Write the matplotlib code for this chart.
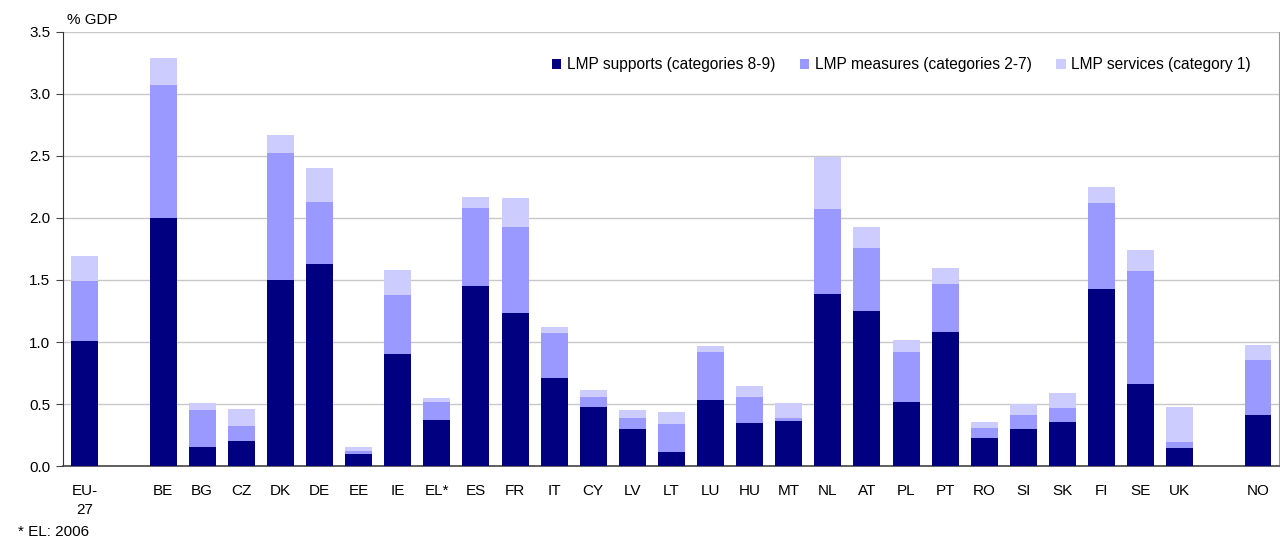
import matplotlib
matplotlib.use("Agg")
import matplotlib.pyplot as plt
import numpy as np

plt.rcParams['font.family'] = ['Liberation Sans', 'DejaVu Sans']

categories = ["EU-\n27", "", "BE", "BG", "CZ", "DK", "DE", "EE", "IE", "EL*", "ES", "FR", "IT",
              "CY", "LV", "LT", "LU", "HU", "MT", "NL", "AT", "PL", "PT", "RO", "SI", "SK",
              "FI", "SE", "UK", "", "NO"]

# values (% GDP); None for blank slots
supports = [1.01, None, 2.00, 0.15, 0.20, 1.50, 1.625, 0.10, 0.905, 0.37, 1.45, 1.235, 0.71,
            0.475, 0.295, 0.11, 0.53, 0.345, 0.36, 1.39, 1.253, 0.515, 1.082, 0.222, 0.295, 0.352,
            1.43, 0.66, 0.149, None, 0.409]
measures = [0.48, None, 1.075, 0.30, 0.12, 1.025, 0.505, 0.02, 0.47, 0.145, 0.63, 0.695, 0.365,
            0.08, 0.089, 0.225, 0.39, 0.211, 0.024, 0.68, 0.503, 0.405, 0.382, 0.081, 0.114, 0.113,
            0.69, 0.91, 0.048, None, 0.446]
services = [0.20, None, 0.215, 0.06, 0.14, 0.145, 0.27, 0.03, 0.205, 0.03, 0.09, 0.23, 0.046,
            0.056, 0.065, 0.098, 0.049, 0.089, 0.122, 0.42, 0.17, 0.097, 0.13, 0.049, 0.089, 0.122,
            0.13, 0.17, 0.276, None, 0.122]

labels_legend = ["LMP supports (categories 8-9)", "LMP measures (categories 2-7)",
                 "LMP services (category 1)"]
colors = ["#000080", "#9999FF", "#CCCCFF"]

n = len(categories)
x = np.arange(n)
s = np.array([v if v is not None else np.nan for v in supports])
m = np.array([v if v is not None else np.nan for v in measures])
sv = np.array([v if v is not None else np.nan for v in services])

fig = plt.figure(figsize=(12.8, 5.41), dpi=100)
ax = fig.add_axes([0.0492, 0.1386, 0.9498, 0.8023])

w = 0.69
ax.bar(x, s, w, color=colors[0], label=labels_legend[0], zorder=3)
ax.bar(x, m, w, bottom=s, color=colors[1], label=labels_legend[1], zorder=3)
ax.bar(x, sv, w, bottom=s + m, color=colors[2], label=labels_legend[2], zorder=3)

ax.set_xlim(-0.56, n - 1 + 0.53)
ax.set_ylim(0, 3.5)
yt = np.arange(0, 3.51, 0.5)
ax.set_yticks(yt)
ax.set_yticklabels([f"{v:.1f}" for v in yt], fontsize=11)
ax.yaxis.grid(True, color="#c8c8c8", linewidth=1, zorder=0)
ax.set_xticks(x)
ax.set_xticklabels(categories, fontsize=11, linespacing=1.45)
ax.tick_params(axis="x", length=0, pad=13)
ax.tick_params(axis="y", length=5, direction="out", color="#444444", pad=4)

ax.spines["top"].set_visible(False)
ax.spines["left"].set_color("#333333")
ax.spines["bottom"].set_color("#444444")
ax.spines["bottom"].set_linewidth(1.2)
ax.spines["right"].set_color("#999999")

ax.text(0.003, 1.012, "% GDP", transform=ax.transAxes, fontsize=11, ha="left", va="bottom")
fig.text(0.014, 0.004, "* EL: 2006", fontsize=11, ha="left", va="bottom")

leg = ax.legend(loc="center right", bbox_to_anchor=(0.977, 0.924), ncol=3, frameon=False,
                fontsize=11.2, handlelength=0.6, handleheight=0.6, handletextpad=0.35,
                columnspacing=1.6, borderaxespad=0, borderpad=0)

fig.savefig("out.png", dpi=100)
